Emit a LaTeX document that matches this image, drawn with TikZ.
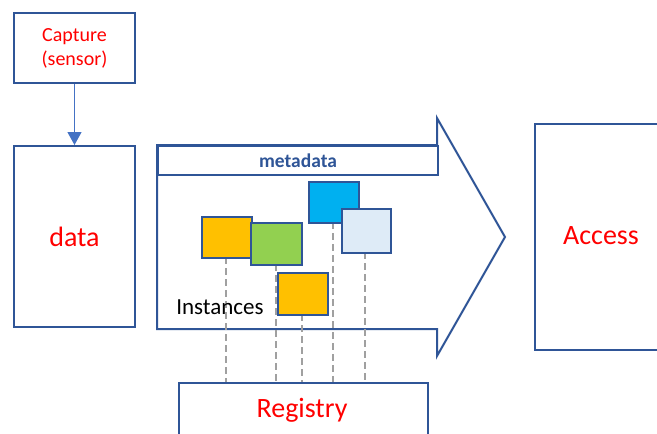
\documentclass[tikz,border=0pt]{standalone}
\usepackage{fontspec}
\setmainfont{Carlito}
\usepackage{tikz}
\usetikzlibrary{positioning, arrows.meta}
\definecolor{boxblue}{RGB}{47,85,151}
\definecolor{linkblue}{RGB}{68,114,196}
\definecolor{textred}{RGB}{255,0,0}
\definecolor{instorange}{RGB}{255,192,0}
\definecolor{instgreen}{RGB}{146,208,80}
\definecolor{instcyan}{RGB}{0,176,240}
\definecolor{instpale}{RGB}{222,235,247}
\definecolor{dashgray}{RGB}{160,160,160}

\tikzset{
  box/.style={draw=boxblue, line width=2pt, fill=white, inner sep=0pt, anchor=north west},
  redlabel/.style={text=textred, font=\fontsize{28}{32}\selectfont},
  inst/.style={draw=boxblue, line width=2pt, inner sep=0pt, anchor=north west},
  link/.style={dashgray, line width=1.8pt, dash pattern=on 7pt off 4pt}
}

\begin{document}
\begin{tikzpicture}[x=1pt, y=-1pt]

\useasboundingbox (0,0) rectangle (657,434);
\clip (0,0) rectangle (657,434);

% Capture et data
\node[box, minimum width=121pt, minimum height=70pt, align=center, text=textred,
      font=\fontsize{20}{24}\selectfont] (capture) at (13,12) {Capture\\(sensor)};
\node[box, minimum width=121pt, minimum height=181pt, redlabel] (data) at (13,145) {data};
\draw[linkblue, line width=1.2pt, -{Triangle[length=13pt, width=14pt]}] (capture) -- (data);

% Grande fleche
\draw[boxblue, line width=2pt, line join=miter, fill=white]
  (157,145) -- (437,145) -- (437,118) -- (505,237) -- (437,356)
  -- (437,329) -- (157,329) -- cycle;
\node[box, minimum width=280pt, minimum height=29pt, text=boxblue,
      font=\fontsize{19.5}{22}\selectfont\bfseries] (meta) at (157,145) {metadata};

% Registry et Access
\node[box, minimum width=249pt, minimum height=80pt, redlabel] (registry) at (178,382) {};
\node[redlabel] at (302,410) {Registry};
\node[box, minimum width=140pt, minimum height=226pt] (access) at (534,123) {};
\node[redlabel] at (601,236) {Access};

% Liens vers le registre
\coordinate (i1) at (226,257);
\coordinate (i2) at (276,264);
\coordinate (i3) at (302,314);
\coordinate (i4) at (333,222);
\coordinate (i5) at (365,252);
\foreach \c in {i1,i2,i3,i4,i5}
  \draw[link] (\c) -- (\c |- registry.north);

% Instances
\node[inst, fill=instorange, minimum width=50pt, minimum height=41pt] (orangeA) at (201,216) {};
\node[inst, fill=instgreen, minimum width=51pt, minimum height=42pt] (green) at (250,222) {};
\node[inst, fill=instcyan, minimum width=50pt, minimum height=41pt] (cyan) at (308,181) {};
\node[inst, fill=instpale, minimum width=49pt, minimum height=44pt] (pale) at (341,208) {};
\node[inst, fill=instorange, minimum width=50pt, minimum height=42pt] (orangeB) at (277,272) {};
\node[font=\fontsize{23}{27}\selectfont] (instances) at (220,307) {Instances};

\end{tikzpicture}
\end{document}
